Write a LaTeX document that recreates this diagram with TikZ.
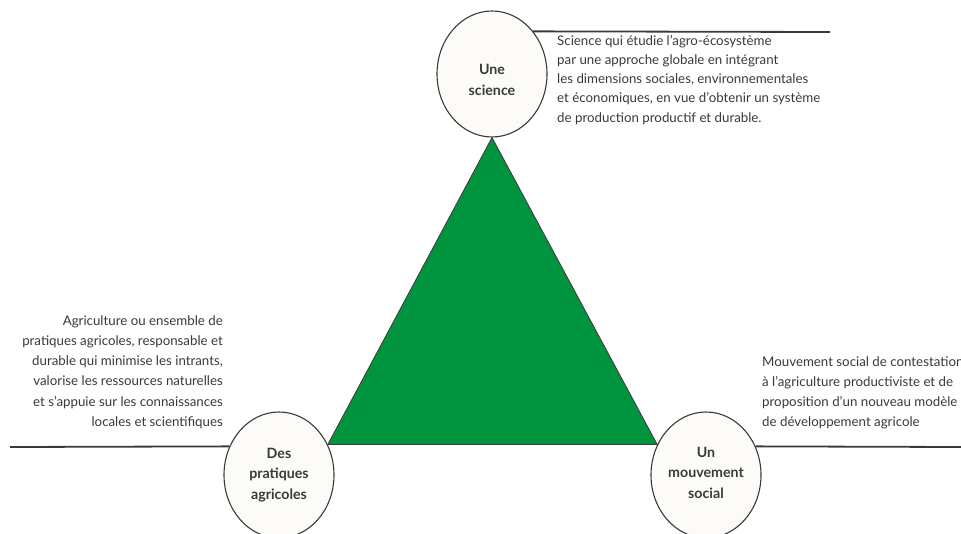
\documentclass[tikz,border=0pt]{standalone}
\usepackage{fontspec}
\setmainfont{Lato}
\usetikzlibrary{shapes.geometric}
\definecolor{agrogreen}{HTML}{00943F}
\definecolor{agrogrey}{HTML}{3A3A3A}
\definecolor{agrocream}{HTML}{FCFBF8}

\begin{document}
\begin{tikzpicture}[x=1pt,y=-1pt,
  pole/.style={ellipse,draw=agrogrey,line width=1.1pt,fill=agrocream,minimum width=110pt,minimum height=126pt,inner sep=0pt,align=center,text=agrogrey,font=\fontsize{14.2}{20.5}\selectfont\bfseries},
  blurb/.style={inner sep=0pt,text=agrogrey,font=\fontsize{13.3}{20.3}\selectfont},
  rule/.style={draw=agrogrey,line width=1.8pt}]
\clip (0,0) rectangle (961,533);
\fill[white] (0,0) rectangle (961,533);
\node[pole] (sci) at (492,74) {\rule{0pt}{22pt}Une\\science};
\node[pole] (prat) at (279,475) {Des\\pratiques\\agricoles};
\node[pole] (soc) at (706,475) {Un\\mouvement\\social\rule[-5pt]{0pt}{5pt}};
\filldraw[fill=agrogreen,draw=agrogrey,line width=0.8pt] (sci.south) -- (prat.32) -- (soc.148) -- cycle;
\coordinate (topend) at (830,32);
\coordinate (leftend) at (10,447);
\coordinate (rightend) at (961,447);
\draw[rule] (sci.46) -- (topend);
\draw[rule] (leftend) -- (prat.150);
\draw[rule] (soc.30) -- (rightend);
\node[blurb,align=left,anchor=north west,font=\fontsize{13.3}{19.2}\selectfont] (scitext) at (557,35) {Science qui étudie l’agro-écosystème\\par une approche globale en intégrant\\les dimensions sociales, environnementales\\et économiques, en vue d’obtenir un système\\de production productif et durable.};
\node[blurb,align=right,anchor=north east] (pratext) at (223,315) {Agriculture ou ensemble de\\pratiques agricoles, responsable et\\durable qui minimise les intrants,\\valorise les ressources naturelles\\et s’appuie sur les connaissances\\locales et scientifiques};
\node[blurb,align=left,anchor=north west] (soctext) at (762,356) {Mouvement social de contestation\\à l’agriculture productiviste et de\\proposition d’un nouveau modèle\\de développement agricole};
\end{tikzpicture}
\end{document}
